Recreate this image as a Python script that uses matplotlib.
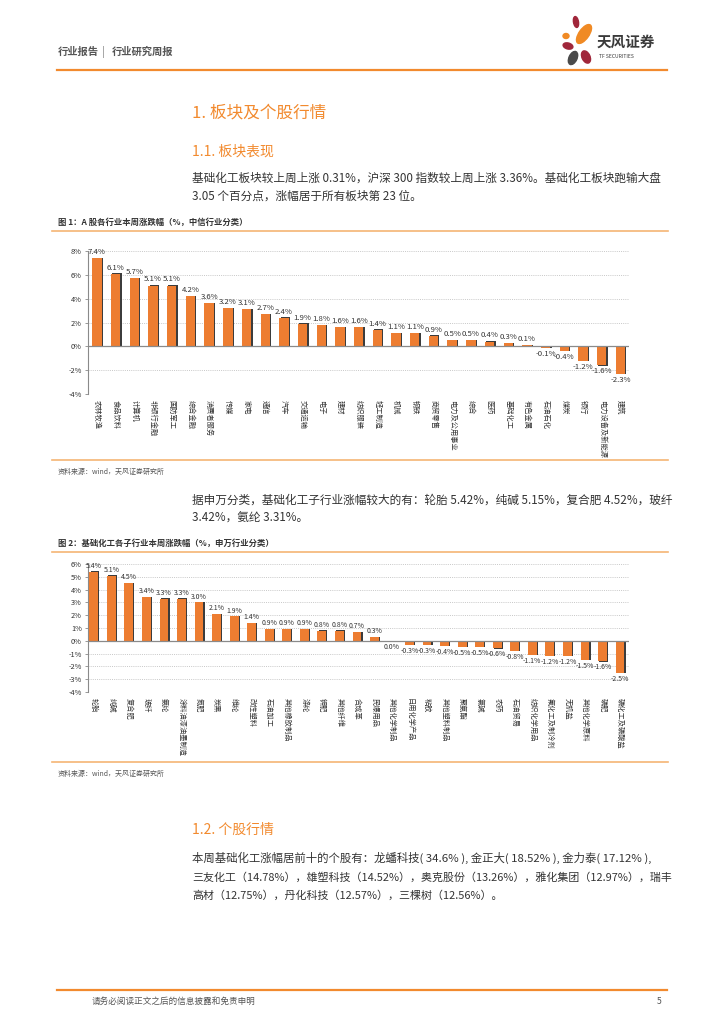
import matplotlib
matplotlib.use("Agg")
import matplotlib.pyplot as plt
from matplotlib.patches import Ellipse

plt.rcParams['font.family'] = ['Noto Sans CJK SC', 'DejaVu Sans']

# 图1：中信一级行业本周涨跌幅（%）
ind_names = ['农林牧渔', '食品饮料', '计算机', '非银行金融', '国防军工', '综合金融',
             '消费者服务', '传媒', '家电', '通信', '汽车', '交通运输', '电子', '建材',
             '纺织服装', '轻工制造', '机械', '钢铁', '商贸零售', '电力及公用事业', '综合',
             '医药', '基础化工', '有色金属', '石油石化', '煤炭', '银行', '电力设备及新能源',
             '建筑']
ind_chg = [7.4, 6.1, 5.7, 5.1, 5.1, 4.2, 3.6, 3.2, 3.1, 2.7, 2.4, 1.9, 1.8, 1.6,
           1.6, 1.4, 1.1, 1.1, 0.9, 0.5, 0.5, 0.4, 0.3, 0.1, -0.1, -0.4, -1.2, -1.6,
           -2.3]
ind_yticks = [-4, -2, 0, 2, 4, 6, 8]

# 图2：申万基础化工子行业本周涨跌幅（%）
sub_names = ['轮胎', '纯碱', '复合肥', '玻纤', '氨纶', '涂料油漆油墨制造', '氮肥', '炭黑',
             '维纶', '改性塑料', '石油加工', '其他橡胶制品', '涤纶', '钾肥', '其他纤维',
             '合成革', '民爆用品', '其他化学制品', '日用化学产品', '粘胶', '其他塑料制品',
             '聚氨酯', '氯碱', '农药', '石油贸易', '纺织化学用品', '氟化工及制冷剂', '无机盐',
             '其他化学原料', '磷肥', '磷化工及磷酸盐']
sub_chg = [5.4, 5.1, 4.5, 3.4, 3.3, 3.3, 3.0, 2.1, 1.9, 1.4, 0.9, 0.9, 0.9, 0.8,
           0.8, 0.7, 0.3, 0.0, -0.3, -0.3, -0.4, -0.5, -0.5, -0.6, -0.8, -1.1, -1.2,
           -1.2, -1.5, -1.6, -2.5]
sub_yticks = [-4, -3, -2, -1, 0, 1, 2, 3, 4, 5, 6]

ORANGE = '#ED7D31'
TITLE_OR = '#F28A2E'
LINE_OR = '#F5B574'
TXT = '#333333'

W, H = 724, 1024
fig = plt.figure(figsize=(W / 100, H / 100), dpi=100)

# page layer in pixel coordinates
pg = fig.add_axes([0, 0, 1, 1])
pg.set_xlim(0, W)
pg.set_ylim(H, 0)
pg.axis('off')


def box(top, bottom, left=88, right=629):
    return [left / W, 1 - bottom / H, (right - left) / W, (bottom - top) / H]


def bar_chart(rect, names, vals, yticks, xlim, lab_fs=5.6):
    ax = fig.add_axes(rect)
    x = list(range(len(vals)))
    d = 0.07 * (yticks[-1] - yticks[0]) / 12
    # dark edge behind each bar
    ax.bar([i + 0.07 for i in x], [v + (d if v >= 0 else -d) * 0.3 for v in vals],
           width=0.5, color='#3c3c3c', zorder=2)
    ax.bar(x, vals, width=0.5, color=ORANGE, zorder=3)
    for i, v in zip(x, vals):
        if v > 0:
            ax.text(i, v + d * 2.5, f'{v:.1f}%', ha='center', va='bottom',
                    fontsize=lab_fs, color=TXT, zorder=4)
        else:
            ax.text(i, v - d * 2.5, f'{v:.1f}%', ha='center', va='top',
                    fontsize=lab_fs, color=TXT, zorder=4)
    ax.set_xlim(*xlim)
    ax.set_ylim(yticks[0], yticks[-1])
    ax.set_yticks(yticks)
    ax.set_yticklabels([f'{t}%' for t in yticks], fontsize=5.3, color=TXT)
    ax.set_xticks(x)
    ax.set_xticklabels(names, rotation=270, fontsize=5.2, color=TXT,
                       ha='center', va='top')
    ax.tick_params(axis='x', length=0, pad=4)
    ax.tick_params(axis='y', length=2.5, width=0.6, color='#888888', pad=2)
    for t in yticks:
        if t != 0:
            ax.axhline(t, color='#c8c8c8', lw=0.7, ls=(0, (1, 1.2)), zorder=1)
    ax.axhline(0, color='#8a8a8a', lw=0.9, zorder=4)
    for s in ['top', 'right', 'bottom']:
        ax.spines[s].set_visible(False)
    ax.spines['left'].set_color('#8a8a8a')
    ax.spines['left'].set_linewidth(0.8)
    ax.patch.set_alpha(0)
    return ax


# header
pg.text(58, 52, '行业报告', fontsize=7.4, color='#555555', weight='bold', va='center')
pg.text(102, 52, '|', fontsize=7.4, color='#777777', va='center')
pg.text(112, 52, '行业研究周报', fontsize=7.4, color='#555555', weight='bold', va='center')
pg.plot([57, 667], [70, 70], color=TITLE_OR, lw=1.6)
# logo
pg.add_patch(Ellipse((584, 34), 10, 22, angle=35, color='#F08A24'))
pg.add_patch(Ellipse((576, 22), 5, 11, angle=-10, color='#A0263A'))
pg.add_patch(Ellipse((568, 46), 10, 6, angle=15, color='#A0263A'))
pg.add_patch(Ellipse((566, 36), 6, 5, angle=0, color='#F08A24'))
pg.add_patch(Ellipse((573, 58), 8, 14, angle=25, color='#4a4a4a'))
pg.add_patch(Ellipse((586, 57), 8, 13, angle=-25, color='#A0263A'))
pg.text(597, 42, '天风证券', fontsize=10.5, color='#3a3a3a', weight='bold', va='center')
pg.text(599, 56, 'TF SECURITIES', fontsize=3.6, color='#3a3a3a', va='center')

# section titles and body text
pg.text(192, 113, '1. 板块及个股行情', fontsize=12, color=TITLE_OR, va='center')
pg.text(192, 152, '1.1. 板块表现', fontsize=10, color=TITLE_OR, va='center')
pg.text(192, 178, '基础化工板块较上周上涨 0.31%，沪深 300 指数较上周上涨 3.36%。基础化工板块跑输大盘',
        fontsize=8.4, color=TXT, va='center')
pg.text(192, 196, '3.05 个百分点，涨幅居于所有板块第 23 位。', fontsize=8.4, color=TXT, va='center')

pg.text(58, 222, '图 1：A 股各行业本周涨跌幅（%，中信行业分类）', fontsize=6,
        color='#333333', weight='bold', va='center')
pg.plot([52, 668], [231, 231], color=LINE_OR, lw=1.2)
bar_chart(box(251, 394), ind_names, ind_chg, ind_yticks, (-0.48, 28.46))
pg.plot([52, 668], [460, 460], color=LINE_OR, lw=1.2)
pg.text(58, 472, '资料来源：wind，天风证券研究所', fontsize=5, color='#555555', va='center')

pg.text(192, 500, '据申万分类，基础化工子行业涨幅较大的有：轮胎 5.42%，纯碱 5.15%，复合肥 4.52%，玻纤',
        fontsize=8.4, color=TXT, va='center')
pg.text(192, 518, '3.42%，氨纶 3.31%。', fontsize=8.4, color=TXT, va='center')

pg.text(58, 543, '图 2：基础化工各子行业本周涨跌幅（%，申万行业分类）', fontsize=6,
        color='#333333', weight='bold', va='center')
pg.plot([52, 668], [552, 552], color=LINE_OR, lw=1.2)
bar_chart(box(564, 692), sub_names, sub_chg, sub_yticks, (-0.33, 30.51), lab_fs=5.0)
pg.plot([52, 668], [762, 762], color=LINE_OR, lw=1.2)
pg.text(58, 774, '资料来源：wind，天风证券研究所', fontsize=5, color='#555555', va='center')

pg.text(192, 830, '1.2. 个股行情', fontsize=10, color=TITLE_OR, va='center')
pg.text(192, 858, '本周基础化工涨幅居前十的个股有：龙蟠科技( 34.6% ), 金正大( 18.52% ), 金力泰( 17.12% ),',
        fontsize=8.2, color=TXT, va='center')
pg.text(192, 877, '三友化工（14.78%），雄塑科技（14.52%），奥克股份（13.26%），雅化集团（12.97%），瑞丰',
        fontsize=7.9, color=TXT, va='center')
pg.text(192, 896, '高材（12.75%），丹化科技（12.57%），三棵树（12.56%）。',
        fontsize=7.9, color=TXT, va='center')

# footer
pg.plot([57, 667], [990, 990], color=TITLE_OR, lw=1.6)
pg.text(92, 1001, '请务必阅读正文之后的信息披露和免责申明', fontsize=6.2, color='#555555', va='center')
pg.text(662, 1001, '5', fontsize=6.2, color='#555555', va='center', ha='right')

fig.savefig('out.png', dpi=100)
